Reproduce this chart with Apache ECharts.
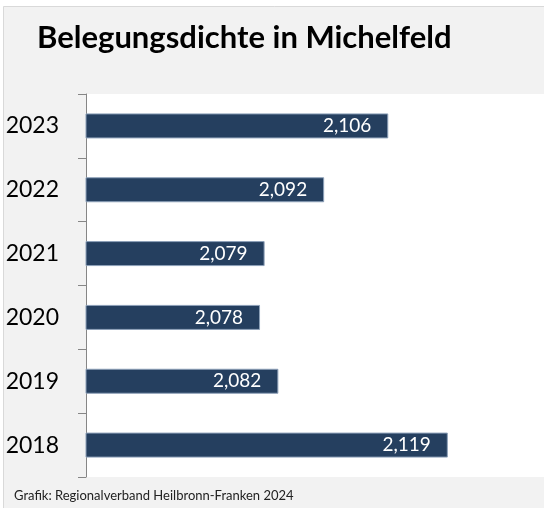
<!DOCTYPE html>
<html>
<head>
<meta charset="utf-8">
<style>
	html, body { margin: 0; padding: 0; background: #fff; }
	#chart { width: 544px; height: 508px; }
</style>
</head>
<body>
<div id="chart"></div>
<script type="text/javascript" src="https://cdn.jsdelivr.net/npm/echarts@6/dist/echarts.min.js"></script>
<script type="text/javascript">
	var years = ['2018', '2019', '2020', '2021', '2022', '2023'];
	var dichte = [2.119, 2.082, 2.078, 2.079, 2.092, 2.106];

	var font = 'Lato, "Open Sans", sans-serif';

	var myChart = echarts.init(document.getElementById('chart'));
	var option = {
		backgroundColor: '#fff',
		animation: false,
		graphic: [
			{
				type: 'rect',
				z: -10,
				shape: {x: 3.5, y: 6.5, width: 600, height: 600},
				style: {fill: '#f2f2f2', stroke: '#d9d9d9', lineWidth: 1}
			},
			{
				type: 'text',
				left: 37,
				top: 22,
				style: {
					text: 'Belegungsdichte in Michelfeld',
					font: 'bold 31px ' + font,
					fill: '#000'
				}
			},
			{
				type: 'text',
				left: 14,
				top: 489,
				style: {
					text: 'Grafik: Regionalverband Heilbronn-Franken 2024',
					font: '13px ' + font,
					fill: '#222'
				}
			}
		],
		grid: {
			left: 86,
			top: 94,
			right: 0,
			bottom: 31,
			show: true,
			backgroundColor: '#fff',
			borderWidth: 0
		},
		xAxis: {
			type: 'value',
			min: 2.04,
			max: 2.14,
			show: false
		},
		yAxis: {
			type: 'category',
			data: years,
			axisLine: {show: true, lineStyle: {color: '#868686', width: 1}},
			axisTick: {show: true, length: 8, lineStyle: {color: '#868686'}},
			axisLabel: {color: '#000', fontSize: 23, fontFamily: font, margin: 27},
			splitLine: {show: false}
		},
		series: [
			{
				type: 'bar',
				data: dichte,
				barWidth: 25,
				itemStyle: {color: '#253f5f', borderColor: '#8da0b8', borderWidth: 1},
				label: {
					show: true,
					position: 'insideRight',
					distance: 17,
					color: '#fff',
					fontSize: 19,
					fontFamily: font,
					formatter: function (p) {
						return p.value.toFixed(3).replace('.', ',');
					}
				}
			}
		]
	};
	myChart.setOption(option);
</script>
</body>
</html>
